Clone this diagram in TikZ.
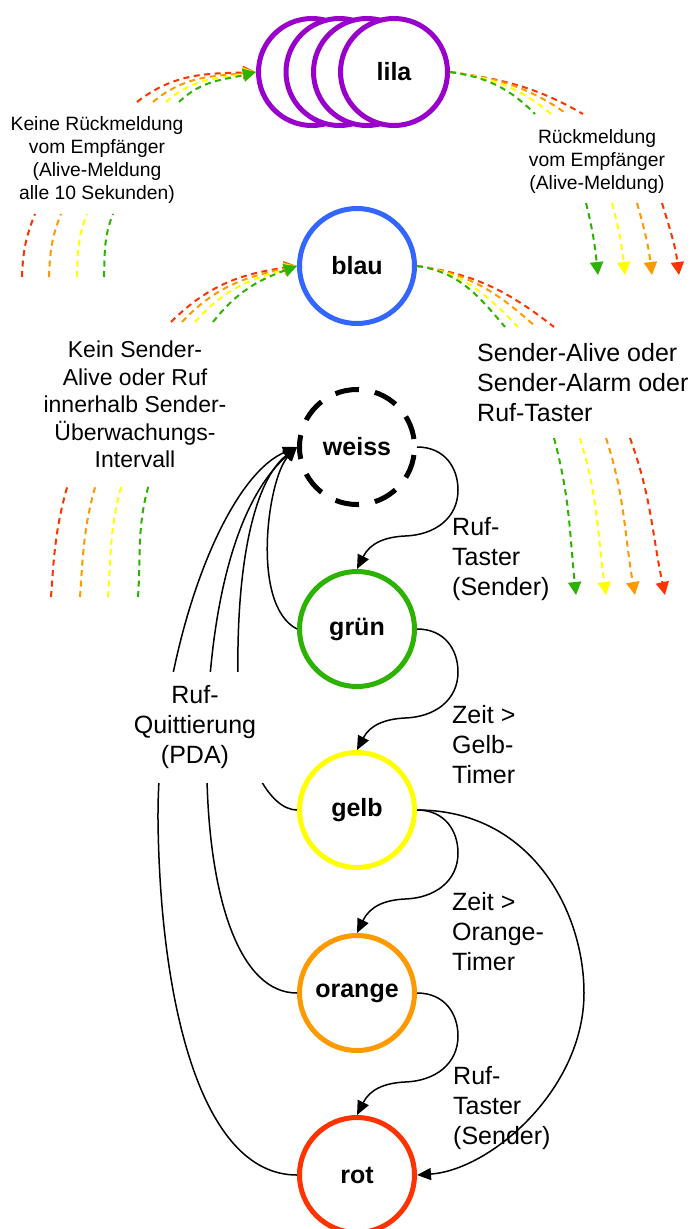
\documentclass[tikz,border=0pt]{standalone}
\usepackage{fontspec}
\setmainfont{Liberation Sans}
\usetikzlibrary{arrows.meta,calc}
\definecolor{clila}{RGB}{153,0,204}
\definecolor{cblau}{RGB}{51,102,255}
\definecolor{cgruen}{RGB}{44,178,0}
\definecolor{cgelb}{RGB}{255,255,0}
\definecolor{corange}{RGB}{255,153,0}
\definecolor{crot}{RGB}{255,51,0}
\begin{document}
\begin{tikzpicture}[x=1pt,y=1pt,
  st/.style={circle, minimum size=115pt, inner sep=0pt, line width=5pt, fill=white,
    font=\bfseries\fontsize{25}{30}\selectfont},
  ring/.style={circle, minimum size=107pt, inner sep=0pt, line width=5pt, draw=clila, fill=white,
    font=\bfseries\fontsize{25}{30}\selectfont},
  tr/.style={line width=1.5pt, -{Triangle[length=14pt,width=12pt]}},
  rb/.style={line width=2pt, dash pattern=on 6pt off 4.5pt},
  rba/.style={rb, -{Triangle[length=13pt,width=13pt]}},
  txt/.style={inner sep=0pt, font=\fontsize{25}{30}\selectfont, align=left},
  small/.style={inner sep=0pt, align=center, font=\fontsize{19.3}{23}\selectfont}
]
\useasboundingbox (0,0) rectangle (691,-1229);

% states
\node[ring] (l1) at (312,-72) {};
\node[ring] (l2) at (339.5,-72) {};
\node[ring] (l3) at (367,-72) {};
\node[ring] (l4) at (394,-72) {lila};
\node[st,draw=cblau] (sBlau) at (357,-266) {blau};
\node[st] (sWeiss) at (357,-447) {weiss};
\draw[line width=5pt, dash pattern=on 24pt off 16.14pt, dash phase=32.07pt]
  (sWeiss.center) circle[radius=57.5pt];
\node[st,draw=cgruen] (sGruen) at (357,-629) {grün};
\node[st,draw=cgelb] (sGelb) at (357,-810) {gelb};
\node[st,draw=corange] (sOrange) at (357,-993) {orange};
\node[st,draw=crot] (sRot) at (357,-1175) {rot};

% rainbow arcs into lila
\foreach \c/\x/\o/\i in {crot/137/38/182, corange/153/40/186, cgelb/166/42/190, cgruen/179/44/194}
  \draw[rba,color=\c] (\x,-102) to[out=\o,in=\i] (l1.west);
% rainbow arcs out of lila
\foreach \c/\x/\i in {crot/583/150, corange/567/145, cgelb/551/140, cgruen/535/135}
  \draw[rb,color=\c] (l4.east) to[out=-8,in=\i] (\x,-114);
% down arrows right top
\foreach \c/\x/\d/\o/\i in {cgruen/586/12/-76/96, cgelb/612/13/-75/96, corange/637/15/-74/97, crot/662/17/-73/97}
  \draw[rba,color=\c] (\x,-203) to[out=\o,in=\i] (\x+\d,-275);
% left tails top
\foreach \c/\x/\d in {crot/22/13, corange/49/12, cgelb/77/10, cgruen/104/9}
  \draw[rb,color=\c] (\x,-277) to[out=88,in=-112] (\x+\d,-214);
% rainbow arcs into blau
\foreach \c/\x/\o/\i in {crot/171/45/188, corange/182/47/192, cgelb/195/49/196, cgruen/213/52/200}
  \draw[rba,color=\c] (\x,-322) to[out=\o,in=\i] (sBlau.west);
% rainbow arcs out of blau
\foreach \c/\x/\i in {crot/554/142, corange/536/138, cgelb/518/134, cgruen/505/130}
  \draw[rb,color=\c] (sBlau.east) to[out=-8,in=\i] (\x,-327);
% left tails middle
\foreach \c/\x/\d in {crot/51/17, corange/80/16, cgelb/108/14, cgruen/138/11}
  \draw[rb,color=\c] (\x,-597) to[out=86,in=-106] (\x+\d,-484);
% down arrows right middle
\foreach \c/\x/\d/\o/\i in {cgruen/554/22/-75/96, cgelb/580/26/-73/98, corange/606/29/-72/100, crot/630/35/-70/102}
  \draw[rba,color=\c] (\x,-438) to[out=\o,in=\i] (\x+\d,-595);

% forward transitions
\foreach \a/\b in {sWeiss/sGruen, sGruen/sGelb, sGelb/sOrange, sOrange/sRot}
  \draw[tr] (\a.east) .. controls ($(\a.center)+(88,0)$) and ($(\a.center)+(101,-21)$) ..
    ($(\a.center)+(101,-43)$) .. controls ($(\a.center)+(101,-71)$) and ($(\a.center)+(78,-88)$) ..
    ($(\a.center)+(48,-89)$) .. controls ($(\a.center)+(28,-90)$) and ($(\a.center)+(13,-96)$) ..
    (\b.north);
\draw[tr] (sGelb.east) .. controls (530,-810) and (584,-910) .. (584,-993)
  .. controls (584,-1090) and (490,-1170) .. (sRot.east);

% back to weiss
\draw[tr] (sRot.west) .. controls (200,-1175) and (160,-1000) .. (158,-820)
  .. controls (157,-660) and (220,-480) .. (sWeiss.west);
\draw[tr] (sOrange.west) .. controls (240,-993) and (210,-900) .. (207,-780)
  .. controls (204,-650) and (225,-510) .. (sWeiss.west);
\draw[tr] (sGelb.west) .. controls (270,-810) and (240,-760) .. (238,-680)
  .. controls (236,-560) and (255,-480) .. (sWeiss.west);
\draw[tr] (sGruen.west) .. controls (250,-605) and (268,-478) .. (sWeiss.west);

% labels
\node[txt, align=center, fill=white, inner xsep=8pt, inner ysep=14pt] (quitt) at (195,-727.5)
  {Ruf-\\Quittierung\\(PDA)};
\node[txt, anchor=west] (t1) at (452,-559.5) {Ruf-\\Taster\\(Sender)};
\node[txt, anchor=west] (t2) at (452,-745) {Zeit >\\Gelb-\\Timer};
\node[txt, anchor=west] (t3) at (452,-932) {Zeit >\\Orange-\\Timer};
\node[txt, anchor=west] (t4) at (453,-1108.5) {Ruf-\\Taster\\(Sender)};
\node[txt, anchor=west] (t5) at (477,-383) {Sender-Alive oder\\Sender-Alarm oder\\Ruf-Taster};
\node[txt, align=center, font=\fontsize{23}{27.5}\selectfont] (t6) at (135,-404.5)
  {Kein Sender-\\Alive oder Ruf\\innerhalb Sender-\\Überwachungs-\\Intervall};
\node[small] (t7) at (97,-160) {Keine Rückmeldung\\vom Empfänger\\(Alive-Meldung\\alle 10 Sekunden)};
\node[small] (t8) at (597,-162) {Rückmeldung\\vom Empfänger\\(Alive-Meldung)};
\end{tikzpicture}
\end{document}
